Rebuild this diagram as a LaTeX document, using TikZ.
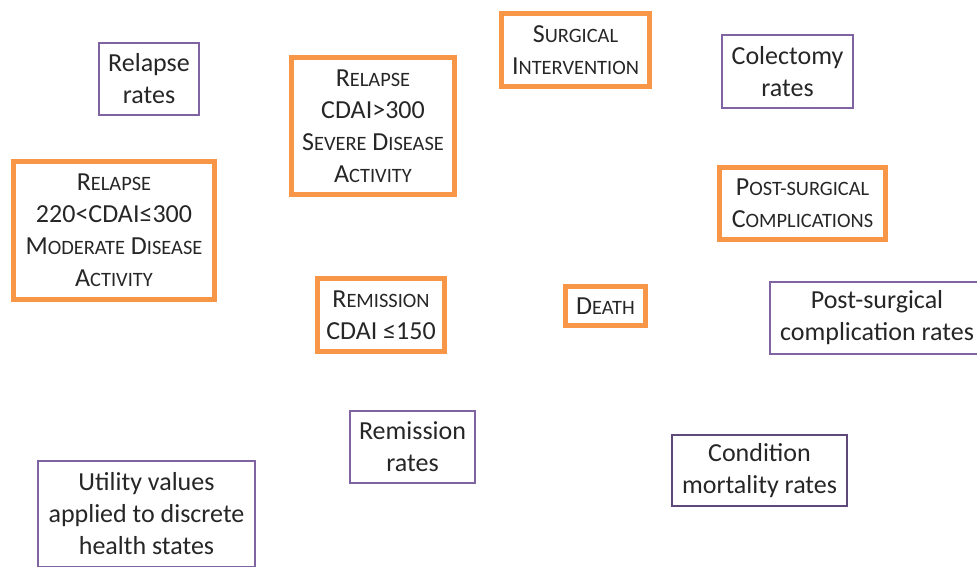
\documentclass[tikz,border=0pt]{standalone}
\usepackage{fontspec}
\setmainfont{Carlito}
\usepackage{xcolor}
\usetikzlibrary{positioning}

\definecolor{stateorange}{HTML}{F79646}
\definecolor{ratepurple}{HTML}{8064A2}
\definecolor{ratedark}{HTML}{5F497A}

% fake small caps: big first letter, smaller rest
\newcommand{\smc}[2]{#1{\fontsize{10.2}{16}\selectfont #2}}

\begin{document}
\begin{tikzpicture}[x=0.5pt,y=-0.5pt,
  every node/.style={font=\fontsize{13}{16}\selectfont, text=black!85, align=center, inner sep=0pt},
  state/.style={draw=stateorange, line width=2.5pt},
  rate/.style={draw=ratepurple, line width=1pt}]
\useasboundingbox (0,0) rectangle (977,566);

% health states
\node[state, minimum width=100.5pt, minimum height=69pt] (moderate) at (114,230.5)
  {\smc{R}{ELAPSE}\\220<CDAI≤300\\\smc{M}{ODERATE} \smc{D}{ISEASE}\\\smc{A}{CTIVITY}};
\node[state, minimum width=81.5pt, minimum height=68.5pt] (severe) at (373,126)
  {\smc{R}{ELAPSE}\\CDAI>300\\\smc{S}{EVERE} \smc{D}{ISEASE}\\\smc{A}{CTIVITY}};
\node[state, minimum width=74pt, minimum height=36.5pt] (surgery) at (575.5,50)
  {\smc{S}{URGICAL}\\\smc{I}{NTERVENTION}};
\node[state, minimum width=83pt, minimum height=36pt] (postsurg) at (802.5,203.5)
  {\smc{P}{OST-SURGICAL}\\\smc{C}{OMPLICATIONS}};
\node[state, minimum width=63.5pt, minimum height=36.5pt] (remission) at (381,315)
  {\smc{R}{EMISSION}\\CDAI ≤150};
\node[state, minimum width=40pt, minimum height=19.5pt] (death) at (605.5,306)
  {\smc{D}{EATH}};

% model inputs
\node[rate, minimum width=50pt, minimum height=36pt] (relrates) at (149,79)
  {Relapse\\rates};
\node[rate, minimum width=65.5pt, minimum height=36.5pt] (colrates) at (787.5,71.5)
  {Colectomy\\rates};
\node[rate, minimum width=107pt, minimum height=36pt] (comprates) at (877,318)
  {Post-surgical\\complication rates};
\node[rate, minimum width=62.5pt, minimum height=36pt] (remrates) at (412.5,447)
  {Remission\\rates};
\node[rate, draw=ratedark, minimum width=87.5pt, minimum height=35.5pt] (mortrates) at (759.5,470.5)
  {Condition\\mortality rates};
\node[rate, minimum width=108.5pt, minimum height=53pt] (utility) at (146.5,514)
  {Utility values\\applied to discrete\\health states};
\end{tikzpicture}
\end{document}
